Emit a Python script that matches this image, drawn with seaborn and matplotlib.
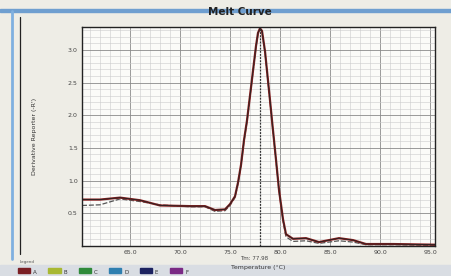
import numpy as np
import pandas as pd
import seaborn as sns
import matplotlib.pyplot as plt
from matplotlib.lines import Line2D
from matplotlib.patches import Rectangle
from matplotlib.ticker import MultipleLocator

# melt curve
temps = [60.2, 62.0, 64.0, 66.0, 68.0, 71.0, 72.5, 73.5, 74.5, 75.0, 75.5, 75.8,
         76.1, 76.4, 76.7, 77.0, 77.3, 77.6, 77.8, 78.0, 78.2, 78.5, 78.7, 79.0,
         79.2, 79.4, 79.6, 79.9, 80.3, 80.6, 81.3, 82.6, 83.9, 85.9, 87.3, 88.6,
         91.3, 95.5]
deriv_a = [0.71, 0.71, 0.74, 0.70, 0.62, 0.61, 0.61, 0.55, 0.56, 0.64, 0.76, 0.97,
           1.24, 1.62, 1.92, 2.30, 2.68, 3.06, 3.26, 3.33, 3.29, 2.98, 2.68, 2.23,
           1.92, 1.62, 1.32, 0.86, 0.41, 0.18, 0.11, 0.12, 0.06, 0.12, 0.09, 0.03,
           0.03, 0.02]
deriv_b = [0.62, 0.63, 0.72, 0.68, 0.63, 0.60, 0.60, 0.53, 0.54, 0.62, 0.74, 0.95,
           1.22, 1.60, 1.90, 2.28, 2.66, 3.04, 3.24, 3.31, 3.27, 2.96, 2.66, 2.21,
           1.90, 1.60, 1.30, 0.84, 0.38, 0.14, 0.07, 0.08, 0.04, 0.08, 0.06, 0.02,
           0.02, 0.01]
tm = 78.0
x_ticks = [65.0, 70.0, 75.0, 80.0, 85.0, 90.0, 95.0]
y_ticks = [0.5, 1.0, 1.5, 2.0, 2.5, 3.0]
legend_names = ['A', 'B', 'C', 'D', 'E', 'F']
legend_colors = ['#7a1f24', '#a8b832', '#2f8a3a', '#2f7fb0', '#1c2260', '#7a2a85']

df = pd.DataFrame({'temp': temps, 'A': deriv_a, 'B': deriv_b})

sns.set_style('white')
plt.rcParams['font.family'] = ['DejaVu Sans']

fig = plt.figure(figsize=(4.52, 2.76), dpi=100)
fig.patch.set_facecolor('#eeede6')

# window frame from the photo, kept behind the axes
fig.add_artist(Rectangle((0, 0), 1, 11 / 276, transform=fig.transFigure, color='#d9dde3', zorder=-1))
fig.add_artist(Rectangle((0, 0.955), 1, 0.012, transform=fig.transFigure, color='#6f9fd0', zorder=-1))
fig.add_artist(Line2D([12 / 452] * 2, [0.06, 0.96], transform=fig.transFigure, color='#7fb0e0', lw=2, zorder=-1))
fig.add_artist(Line2D([20 / 452] * 2, [0.08, 0.94], transform=fig.transFigure, color='#222222', lw=0.9, zorder=-1))

ax = fig.add_axes([82 / 452, 30 / 276, 353 / 452, 219 / 276])
ax.set_facecolor('#fbfbf8')

sns.lineplot(data=df, x='temp', y='B', ax=ax, color='#555555', lw=0.9, ls=(0, (4, 1.5)))
sns.lineplot(data=df, x='temp', y='A', ax=ax, color='#8a2020', lw=1.6)
sns.lineplot(data=df, x='temp', y='A', ax=ax, color='#222222', lw=0.6)
ax.axvline(tm, color='#333333', lw=0.9, ls=(0, (1.5, 1)))

ax.set_xlim(60.2, 95.5)
ax.set_ylim(0.0, 3.35)
ax.set_xticks(x_ticks)
ax.set_xticklabels([f'{t:.1f}' for t in x_ticks])
ax.set_yticks(y_ticks)
ax.set_yticklabels([f'{v:.1f}' for v in y_ticks])
ax.xaxis.set_minor_locator(MultipleLocator(1))
ax.yaxis.set_minor_locator(MultipleLocator(0.1))
ax.grid(which='major', color='#8a8a8a', lw=0.6)
ax.grid(which='minor', color='#cccccc', lw=0.4)
ax.tick_params(labelsize=4.5, length=0, pad=3, colors='#444444')
for s in ax.spines.values():
    s.set_color('#222222')
    s.set_linewidth(1.0)

ax.set_xlabel('Temperature (°C)', fontsize=4.5, color='#333333', labelpad=7)
ax.set_ylabel("Derivative Reporter (-R')", fontsize=4.5, color='#333333', labelpad=22)
ax.text(tm - 0.6, -0.19, 'Tm: 77.98', fontsize=4, color='#444444', ha='center', va='center')
fig.text(0.53, 0.945, 'Melt Curve', fontsize=7.5, weight='bold', ha='center', color='#222222')

fig.text(20 / 452, 13 / 276, 'Legend', fontsize=3, color='#555555')
for i, (n, c) in enumerate(zip(legend_names, legend_colors)):
    x0 = (18 + i * 30.5) / 452
    fig.add_artist(Rectangle((x0, 3 / 276), 12 / 452, 5 / 276, transform=fig.transFigure, color=c))
    fig.text(x0 + 15 / 452, 2.5 / 276, n, fontsize=4, color='#333333')

fig.savefig('out.png', dpi=100, facecolor=fig.get_facecolor())
